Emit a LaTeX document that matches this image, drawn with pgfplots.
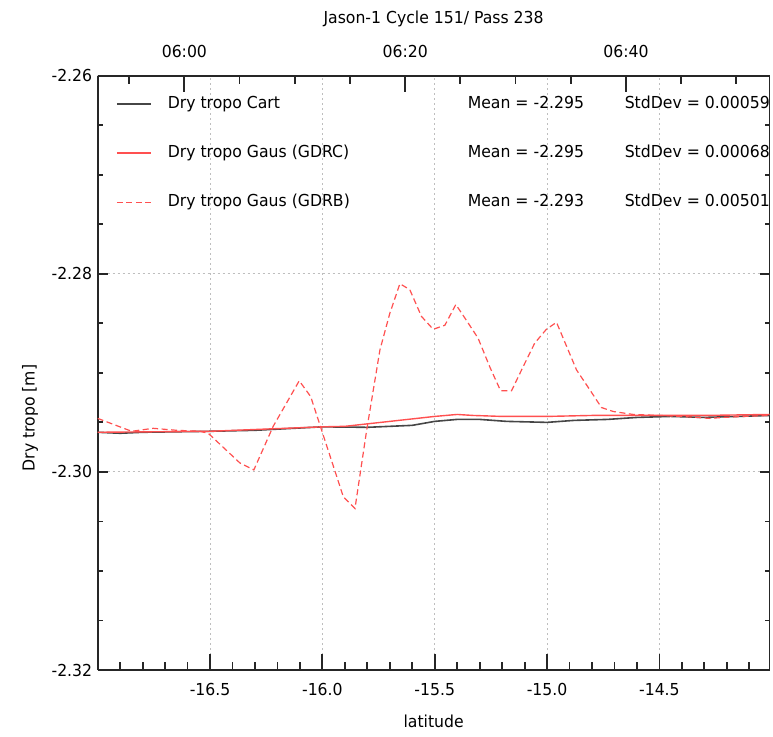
\documentclass[border=0pt]{standalone}
\usepackage{fontspec}
\setmainfont{DejaVu Sans}[FakeStretch=0.95]
\usepackage{pgfplots}
\usepackage{pgfplotstable}
\pgfplotsset{compat=1.18}
\definecolor{cartc}{RGB}{70,70,70}
\definecolor{gausc}{RGB}{255,80,80}
\definecolor{gridc}{RGB}{190,190,190}

\pgfplotstableread{
lat val
-17.000 -2.2960
-16.900 -2.2961
-16.800 -2.2960
-16.500 -2.2959
-16.300 -2.2958
-16.000 -2.29545
-15.800 -2.2955
-15.600 -2.2953
-15.500 -2.2949
-15.400 -2.2947
-15.300 -2.2947
-15.180 -2.2949
-15.000 -2.2950
-14.880 -2.2948
-14.730 -2.2947
-14.600 -2.2945
-14.450 -2.2944
-14.300 -2.2945
-14.150 -2.2944
-14.010 -2.2943
}\cart

\pgfplotstableread{
lat val
-17.000 -2.2960
-16.500 -2.2959
-16.000 -2.29545
-15.900 -2.2954
-15.780 -2.2951
-15.660 -2.2948
-15.500 -2.2944
-15.400 -2.2942
-15.330 -2.2943
-15.200 -2.2944
-15.000 -2.2944
-14.800 -2.2943
-14.600 -2.2943
-14.300 -2.2943
-14.010 -2.2942
}\gdrc

\pgfplotstableread{
lat val
-17.000 -2.2946
-16.849 -2.2959
-16.753 -2.2956
-16.649 -2.2958
-16.545 -2.2959
-16.508 -2.2961
-16.367 -2.2991
-16.305 -2.2998
-16.219 -2.2954
-16.103 -2.2908
-16.052 -2.2924
-15.907 -2.3025
-15.855 -2.3037
-15.803 -2.2958
-15.744 -2.2877
-15.700 -2.2840
-15.655 -2.2810
-15.611 -2.2816
-15.559 -2.2843
-15.507 -2.2856
-15.455 -2.2852
-15.406 -2.2831
-15.359 -2.2847
-15.307 -2.2865
-15.255 -2.2894
-15.207 -2.2918
-15.158 -2.2918
-15.107 -2.2894
-15.055 -2.2870
-15.003 -2.2856
-14.958 -2.2849
-14.869 -2.2897
-14.810 -2.2917
-14.758 -2.2935
-14.706 -2.2939
-14.617 -2.2942
-14.502 -2.2943
-14.395 -2.2944
-14.276 -2.2946
-14.217 -2.2945
-14.128 -2.2944
-14.010 -2.2943
}\gdrb

\begin{document}
\begin{tikzpicture}[font=\fontsize{16.5}{19}\selectfont]
\begin{axis}[
  at={(0,0)}, anchor=south west,
  scale only axis, width=671.8pt, height=594.3pt,
  xmin=-17.0, xmax=-14.01, ymin=-2.32, ymax=-2.26,
  xtick={-16.5,-16.0,-15.5,-15.0,-14.5},
  minor xtick={-16.9,-16.8,-16.7,-16.6,-16.4,-16.3,-16.2,-16.1,-15.9,-15.8,-15.7,-15.6,-15.4,-15.3,-15.2,-15.1,-14.9,-14.8,-14.7,-14.6,-14.4,-14.3,-14.2,-14.1},
  ytick={-2.32,-2.30,-2.28,-2.26},
  minor y tick num=3,
  xtick pos=bottom, ytick pos=both, tick align=inside,
  major tick length=10pt, minor tick length=5pt,
  xtick style={/pgfplots/major tick length=16pt, /pgfplots/minor tick length=8pt},
  grid=major,
  major grid style={gridc, line width=0.9pt, dash pattern=on 2pt off 3pt},
  separate axis lines,
  axis line style={line width=1.8pt, black!85},
  tick style={line width=1.8pt, black!85},
  /pgf/number format/assume math mode=true,
  xticklabel style={/pgf/number format/.cd, fixed, fixed zerofill, precision=1, /tikz/.cd, yshift=-10pt},
  yticklabel style={/pgf/number format/.cd, fixed, fixed zerofill, precision=2, /tikz/.cd, xshift=-2pt},
  xlabel={latitude},
  xlabel style={yshift=-12pt},
  ylabel={Dry tropo [m]},
  ylabel style={at={(axis description cs:-0.1008,0.424)}, anchor=center},
  legend cell align=left,
  legend style={at={(rel axis cs:0,1)}, anchor=north west, xshift=18.3pt, yshift=-20.3pt,
    draw=none, fill=none, inner sep=0pt, row sep=33pt, column sep=16pt,
    nodes={inner sep=0pt, text height=12pt, text depth=4pt}},
  legend image code/.code={\draw[#1] (0pt,0pt) -- (34pt,0pt);},
]
\addplot[cartc, line width=1.6pt] table[x=lat, y=val] {\cart};
\addlegendentry{\makebox[300pt][l]{Dry tropo Cart}\makebox[157pt][l]{Mean = -2.295}\makebox[128pt][l]{StdDev = 0.00059}}
\addplot[gausc, line width=1.4pt] table[x=lat, y=val] {\gdrc};
\addlegendentry{\makebox[300pt][l]{Dry tropo Gaus (GDRC)}\makebox[157pt][l]{Mean = -2.295}\makebox[128pt][l]{StdDev = 0.00068}}
\addplot[gausc, line width=1.2pt, dash pattern=on 6pt off 3.5pt] table[x=lat, y=val] {\gdrb};
\addlegendentry{\makebox[300pt][l]{Dry tropo Gaus (GDRB)}\makebox[157pt][l]{Mean = -2.293}\makebox[128pt][l]{StdDev = 0.00501}}
\end{axis}
\begin{axis}[
  at={(0,0)}, anchor=south west,
  scale only axis, width=671.8pt, height=594.3pt,
  xmin=-7.85, xmax=53.0, ymin=0, ymax=1,
  axis x line*=top, axis y line=none,
  xtick={0,20,40}, xticklabels={06:00,06:20,06:40},
  minor xtick={-5,5,10,15,25,30,35,45,50},
  tick align=inside,
  major tick length=16pt, minor tick length=8pt,
  axis line style={line width=1.8pt, black!85},
  tick style={line width=1.8pt, black!85},
  xticklabel style={yshift=14pt},
  title={Jason-1 Cycle 151/ Pass 238},
  title style={at={(0.5,1)}, anchor=base, yshift=45.7pt},
]
\end{axis}
\path (-97.7pt,-66pt) rectangle (675.3pt,670pt);
\end{tikzpicture}
\end{document}
